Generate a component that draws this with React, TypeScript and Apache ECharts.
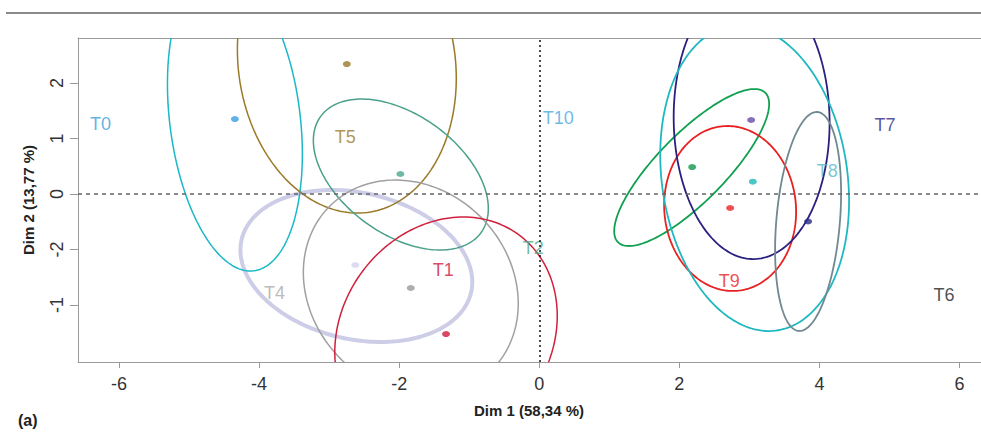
import React, { useEffect, useRef } from "react";
import * as echarts from "echarts";

// Axis ticks
const xTickValues = [-6, -4, -2, 0, 2, 4, 6];
const xTickLabels = ["-6", "-4", "-2", "0", "2", "4", "6"];
const yTickValues = [2, 1, 0, -1, -2];
const yTickLabels = ["2", "1", "0", "-2", "-1"];

// Group centres (points)
const pointX = [-4.345, -2.747, -1.983, -2.626, -1.834, -1.331, 3.025, 2.183, 3.049, 2.725, 3.838];
const pointY = [1.351, 2.342, 0.36, -1.279, -1.694, -2.523, 1.333, 0.486, 0.222, -0.252, -0.495];

// Confidence ellipses: centre, half-extent in x and y, correlation
const ellCx = [-2.611, -4.345, -2.747, -1.976, -1.834, -1.331, 2.176, 2.725, 3.032, 3.075, 3.838];
const ellCy = [-1.297, 1.351, 2.342, 0.351, -1.694, -2.523, 0.477, -0.261, 1.333, 0.288, -0.495];
const ellSx = [1.655, 0.963, 1.5625, 1.249, 1.534, 1.588, 1.106, 0.942, 1.113, 1.348, 0.471];
const ellSy = [1.369, 2.739, 2.685, 1.36, 1.946, 2.108, 1.414, 1.486, 2.505, 2.757, 1.973];
const ellRho = [-0.21, -0.23, -0.096, -0.45, -0.144, 0.155, 0.81, -0.04, -0.02, -0.15, 0.26];

// Treatment labels
const labelNames = ["T0", "T10", "T5", "T2", "T4", "T1", "T7", "T8", "T9", "T6"];
const labelX = [-6.264, 0.271, -2.768, -0.086, -3.781, -1.37, 4.937, 4.11, 2.711, 5.779];
const labelY = [1.261, 1.369, 1.027, -0.973, -1.784, -1.369, 1.243, 0.414, -1.568, -1.82];

// styles
const pointColors = ["#3a9fe0", "#9a7a28", "#4aa890", "#d4d4ee", "#999999", "#d01840", "#6a4aa8", "#10984a", "#20b8b8", "#e82028", "#2a2a88"];
const ellColors = ["#cdcde8", "#1ab8c8", "#9a7a28", "#4aa08a", "#a0a0a0", "#d0203c", "#10a050", "#e82020", "#2a2080", "#20b8c0", "#708890"];
const ellWidths = [4, 1.5, 1.5, 1.5, 1.5, 1.5, 1.8, 1.8, 1.8, 1.8, 1.8];
const labelColors = ["#3aa0dc", "#48a8e0", "#9a7a28", "#4aa890", "#a8a8a8", "#d01840", "#302888", "#58b8c8", "#e82028", "#222222"];

// plot area: 0 at x=539, 70.08 px per unit; grid runs from x=78 to x=1030 (past the visible edge)
const X_MIN = -6.585;
const X_MAX = 7.006;
const Y_MIN = -3.027;
const Y_MAX = 2.811;

export default function App() {
  const ref = useRef<HTMLDivElement>(null);
  useEffect(() => {
    if (!ref.current) return;
    const chart = echarts.init(ref.current, null, { renderer: "svg" });
    const font = "'Liberation Sans', Arial, sans-serif";
    const ellData = ellCx.map((cx, i) => [cx, ellCy[i], ellSx[i], ellSy[i], ellRho[i], i]);
    const option: any = {
      animation: false,
      backgroundColor: "#ffffff",
      textStyle: { fontFamily: font },
      grid: { left: 78, right: 20, top: 38, bottom: 73, show: false },
      graphic: [
        {
          type: "rect",
          left: 6,
          top: 12,
          shape: { width: 1020, height: 2 },
          style: { fill: "#8a8a8a" },
          silent: true,
        },
        {
          type: "text",
          left: 474,
          top: 403,
          style: {
            text: "Dim 1 (58,34 %)",
            fontFamily: font,
            fontWeight: "bold",
            fontSize: 15,
            fill: "#222",
          },
          silent: true,
        },
      ],
      xAxis: [
        {
          type: "value",
          min: X_MIN,
          max: X_MAX,
          position: "bottom",
          axisLine: { show: true, onZero: false, lineStyle: { color: "#9a9a9a", width: 1 } },
          axisTick: { show: true, length: 6, lineStyle: { color: "#9a9a9a" }, customValues: xTickValues },
          axisLabel: {
            show: true,
            margin: 13,
            fontSize: 18,
            color: "#333",
            fontFamily: font,
            customValues: xTickValues,
            formatter: (v: number) => {
              const i = xTickValues.indexOf(v);
              return i >= 0 ? xTickLabels[i] : "";
            },
          },
          splitLine: { show: false },
        },
        {
          type: "value",
          min: X_MIN,
          max: X_MAX,
          position: "top",
          axisLine: { show: true, onZero: false, lineStyle: { color: "#9a9a9a", width: 1 } },
          axisTick: { show: false },
          axisLabel: { show: false },
          splitLine: { show: false },
        },
      ],
      yAxis: {
        type: "value",
        min: Y_MIN,
        max: Y_MAX,
        name: "Dim 2 (13,77 %)",
        nameLocation: "middle",
        nameGap: 42,
        nameTextStyle: { fontFamily: font, fontWeight: "bold", fontSize: 15, color: "#222" },
        axisLine: { show: true, onZero: false, lineStyle: { color: "#9a9a9a", width: 1 } },
        axisTick: { show: true, length: 8, lineStyle: { color: "#9a9a9a" }, customValues: yTickValues },
        axisLabel: {
          show: true,
          rotate: 90,
          margin: 12,
          fontSize: 18,
          color: "#333",
          fontFamily: font,
          customValues: yTickValues,
          formatter: (v: number) => {
            const i = yTickValues.indexOf(v);
            return i >= 0 ? yTickLabels[i] : "";
          },
        },
        splitLine: { show: false },
      },
      series: [
        {
          type: "custom",
          clip: true,
          silent: true,
          data: ellData,
          encode: { x: 0, y: 1 },
          renderItem: (params: any, api: any) => {
            const cx = api.value(0);
            const cy = api.value(1);
            const sx = api.value(2);
            const sy = api.value(3);
            const rho = api.value(4);
            const idx = api.value(5);
            const d = Math.acos(rho);
            const pts: number[][] = [];
            const N = 200;
            for (let k = 0; k <= N; k++) {
              const t = (k / N) * Math.PI * 2;
              pts.push(api.coord([cx + sx * Math.cos(t), cy + sy * Math.cos(t - d)]));
            }
            return {
              type: "polyline",
              shape: { points: pts },
              style: { stroke: ellColors[idx], lineWidth: ellWidths[idx], fill: null },
            };
          },
          z: 2,
        },
        {
          type: "scatter",
          silent: true,
          symbol: "circle",
          symbolSize: [8, 6],
          data: pointX.map((x, i) => ({ value: [x, pointY[i]], itemStyle: { color: pointColors[i] } })),
          markLine: {
            silent: true,
            symbol: "none",
            label: { show: false },
            data: [
              { yAxis: 0, lineStyle: { color: "#666", type: [4, 4], width: 1.5 } },
              { xAxis: 0, lineStyle: { color: "#111", type: [2, 3], width: 1.5 } },
            ],
          },
          z: 3,
        },
        {
          type: "scatter",
          silent: true,
          symbolSize: 2,
          itemStyle: { color: "rgba(0,0,0,0)" },
          data: labelX.map((x, i) => ({
            value: [x, labelY[i]],
            name: labelNames[i],
            label: { color: labelColors[i] },
          })),
          label: {
            show: true,
            position: "inside",
            formatter: (p: any) => p.name,
            fontSize: 18,
            fontFamily: font,
          },
          z: 4,
        },
      ],
    };
    chart.setOption(option);
    return () => chart.dispose();
  }, []);
  return (
    <div
      style={{ position: "fixed", left: 0, top: 0, width: 981, height: 435, background: "#fff", overflow: "hidden" }}
    >
      <div ref={ref} style={{ position: "absolute", left: 0, top: 0, width: 1050, height: 435 }} />
      <div
        style={{
          position: "absolute",
          left: 18,
          top: 412,
          fontFamily: "'Liberation Sans', Arial, sans-serif",
          fontWeight: "bold",
          fontSize: 16,
          color: "#222",
          zIndex: 5,
        }}
      >
        (a)
      </div>
    </div>
  );
}
